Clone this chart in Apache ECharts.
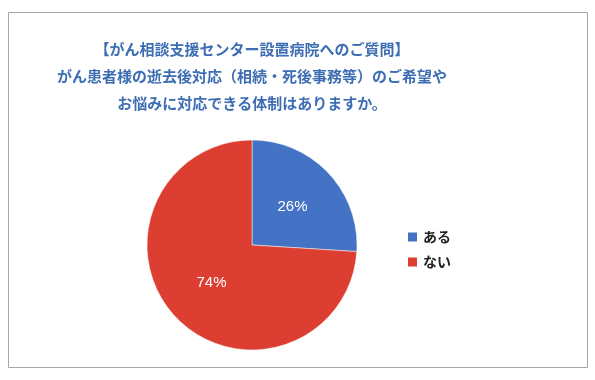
<!DOCTYPE html>
<html><head><meta charset="utf-8">
<script src="https://cdn.jsdelivr.net/npm/echarts@6/dist/echarts.min.js"></script>
<style>html,body{margin:0;padding:0;background:#fff}#c{width:595px;height:380px}</style>
</head><body><div id="c"></div>
<script>
const titleLines = ['【がん相談支援センター設置病院へのご質問】','がん患者様の逝去後対応（相続・死後事務等）のご希望や','お悩みに対応できる体制はありますか。'];
const categories = ['ある','ない'];
const values = [26, 74];
const colors = ['#4472c4','#dc3f32'];

const chart = echarts.init(document.getElementById('c'), null, {renderer:'canvas'});
chart.setOption({
  animation:false,
  graphic:[{type:'rect',shape:{x:8.5,y:12.5,width:579,height:355},style:{fill:'#fff',stroke:'#a6a6a6',lineWidth:1},z:-10}],
  title:{
    text:titleLines.join('\n'),
    left:247, top:31, textAlign:'center',
    textStyle:{fontFamily:'Noto Sans CJK JP',fontSize:15,fontWeight:'bold',color:'#3d6db3',lineHeight:27}
  },
  legend:{
    orient:'vertical', left:401, top:225, itemWidth:11, itemHeight:11, itemGap:11,
    icon:'rect',
    textStyle:{fontFamily:'Noto Sans CJK JP',fontSize:14,fontWeight:'bold',color:'#222'},
    data:categories
  },
  series:[{
    type:'pie', center:[252,245], radius:105, startAngle:90, clockwise:true,
    label:{position:'inside',formatter:'{d}%',color:'#fff',fontSize:15,fontFamily:'Liberation Sans'},
    labelLine:{show:false},
    itemStyle:{borderColor:'#fff',borderWidth:0.5},
    data:categories.map((c,i)=>({name:c,value:values[i],itemStyle:{color:colors[i]}}))
  }]
});
</script></body></html>
